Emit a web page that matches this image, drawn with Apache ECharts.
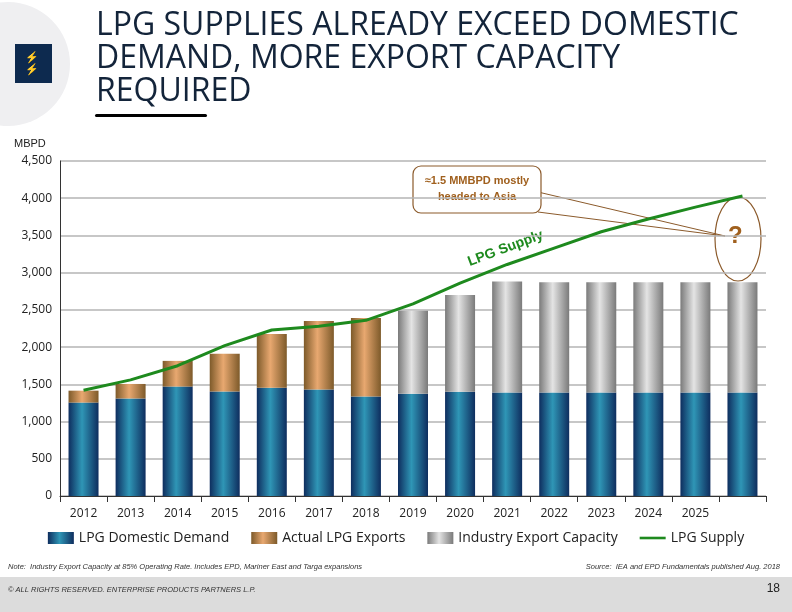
<!DOCTYPE html>
<html>
<head>
<meta charset="utf-8">
<script src="https://cdn.jsdelivr.net/npm/echarts@6/dist/echarts.min.js"></script>
<style>
	html, body { margin: 0; padding: 0; background: #fff; }
	#chart { width: 792px; height: 612px; }
</style>
</head>
<body>
<div id="chart"></div>
<script>
	'use strict'
	var years = ['2012', '2013', '2014', '2015', '2016', '2017', '2018', '2019', '2020', '2021', '2022', '2023', '2024', '2025', ''];
	var demand = [1255, 1310, 1470, 1405, 1455, 1430, 1335, 1375, 1400, 1390, 1390, 1390, 1390, 1390, 1390];
	var exports = [160, 195, 345, 505, 720, 920, 1055, '-', '-', '-', '-', '-', '-', '-', '-'];
	var capacity = ['-', '-', '-', '-', '-', '-', '-', 1115, 1300, 1490, 1480, 1480, 1480, 1480, 1480];
	var supply = [1420, 1560, 1750, 2020, 2230, 2280, 2360, 2580, 2860, 3110, 3330, 3550, 3720, 3880, 4030];

	function hgrad(a, b, c) {
		return new echarts.graphic.LinearGradient(0, 0, 1, 0, [
			{ offset: 0, color: a }, { offset: 0.45, color: b }, { offset: 1, color: c }
		]);
	}
	var blue = hgrad('#0e2d5e', '#2f96b6', '#0e2d5e');
	var tan = hgrad('#7d5a2a', '#e8a870', '#7d5a2a');
	var grey = hgrad('#7a7a7a', '#e4e4e4', '#7a7a7a');
	var font = 'Open Sans';

	var chart = echarts.init(document.getElementById('chart'));
	chart.setOption({
		animation: false,
		textStyle: { fontFamily: font },
		grid: { left: 60, right: 26, top: 161, bottom: 116 },
		legend: {
			bottom: 62, left: 'center', itemGap: 22, itemWidth: 26, itemHeight: 12,
			textStyle: { fontSize: 14, color: '#222', fontFamily: font },
			data: [
				{ name: 'LPG Domestic Demand', icon: 'rect' },
				{ name: 'Actual LPG Exports', icon: 'rect' },
				{ name: 'Industry Export Capacity', icon: 'rect' },
				{ name: 'LPG Supply', icon: 'path://M0,5L30,5L30,8L0,8Z' }
			]
		},
		xAxis: {
			type: 'category', data: years,
			axisLine: { lineStyle: { color: '#333' } },
			axisTick: { show: true, length: 6, lineStyle: { color: '#333' } },
			axisLabel: { fontSize: 12, color: '#222', margin: 12 }
		},
		yAxis: {
			type: 'value', min: 0, max: 4500, interval: 500,
			axisLine: { show: true, lineStyle: { color: '#333' } },
			axisTick: { show: false },
			splitLine: { lineStyle: { color: '#b5b5b5', width: 1.5 } },
			axisLabel: { fontSize: 12, color: '#222', formatter: function(v) { return v.toLocaleString('en-US'); } }
		},
		series: [{
			name: 'LPG Domestic Demand', type: 'bar', stack: 's', barWidth: 30,
			itemStyle: { color: blue }, data: demand
		}, {
			name: 'Actual LPG Exports', type: 'bar', stack: 's',
			itemStyle: { color: tan }, data: exports
		}, {
			name: 'Industry Export Capacity', type: 'bar', stack: 's',
			itemStyle: { color: grey }, data: capacity
		}, {
			name: 'LPG Supply', type: 'line', data: supply, symbol: 'none',
			lineStyle: { color: '#1e8a1e', width: 3 }, itemStyle: { color: '#1e8a1e' }
		}],
		graphic: [
			{ type: 'circle', shape: { cx: 8, cy: 64, r: 62 }, style: { fill: '#efeff1' } },
			{ type: 'rect', shape: { x: 15, y: 44, width: 37, height: 39 }, style: { fill: '#0d2a4f' } },
			{ type: 'text', left: 25, top: 52, style: { text: '⚡\n⚡', fill: '#fff', fontSize: 11, lineHeight: 12 } },
			{ type: 'text', left: 96, top: 9, style: { text: 'LPG SUPPLIES ALREADY EXCEED DOMESTIC\nDEMAND, MORE EXPORT CAPACITY\nREQUIRED', fill: '#13243a', fontSize: 32, lineHeight: 33, fontFamily: font } },
			{ type: 'rect', shape: { x: 95, y: 114, width: 112, height: 3, r: 2 }, style: { fill: '#000' } },
			{ type: 'text', left: 14, top: 138, style: { text: 'MBPD', fill: '#222', fontSize: 11 } },
			{ type: 'text', left: 466, top: 228, rotation: 0.36, style: { text: 'LPG Supply', fill: '#1e8a1e', fontSize: 14, fontWeight: 'bold' } },
			{ type: 'polyline', shape: { points: [[538, 192], [725, 236], [538, 212]] }, style: { stroke: '#8b5a2b', fill: '#fff', lineWidth: 1 } },
			{ type: 'rect', shape: { x: 413, y: 166, width: 128, height: 47, r: 8 }, style: { fill: '#fff', stroke: '#8b5a2b', lineWidth: 1.2 } },
			{ type: 'text', x: 477, y: 173, style: { text: '≈1.5 MMBPD mostly\nheaded to Asia', align: 'center', fill: '#a0601e', fontSize: 11, fontWeight: 'bold', lineHeight: 16 } },
			{ type: 'ellipse', shape: { cx: 738, cy: 239, rx: 23, ry: 42 }, style: { fill: 'none', stroke: '#8b5a2b', lineWidth: 1.2 } },
			{ type: 'text', left: 728, top: 224, style: { text: '?', fill: '#a0601e', fontSize: 24, fontWeight: 'bold' } },
			{ type: 'text', left: 8, top: 563, style: { text: 'Note:  Industry Export Capacity at 85% Operating Rate. Includes EPD, Mariner East and Targa expansions', fill: '#333', fontSize: 7.5, fontStyle: 'italic' } },
			{ type: 'text', right: 12, top: 563, style: { text: 'Source:  IEA and EPD Fundamentals published Aug. 2018', fill: '#333', fontSize: 7.5, fontStyle: 'italic' } },
			{ type: 'rect', shape: { x: 0, y: 577, width: 792, height: 35 }, style: { fill: '#dcdcdc' } },
			{ type: 'text', left: 8, top: 586, style: { text: '© ALL RIGHTS RESERVED. ENTERPRISE PRODUCTS PARTNERS L.P.', fill: '#333', fontSize: 7.5, fontStyle: 'italic' } },
			{ type: 'text', right: 12, top: 583, style: { text: '18', fill: '#222', fontSize: 12 } }
		]
	});
</script>
</body>
</html>
